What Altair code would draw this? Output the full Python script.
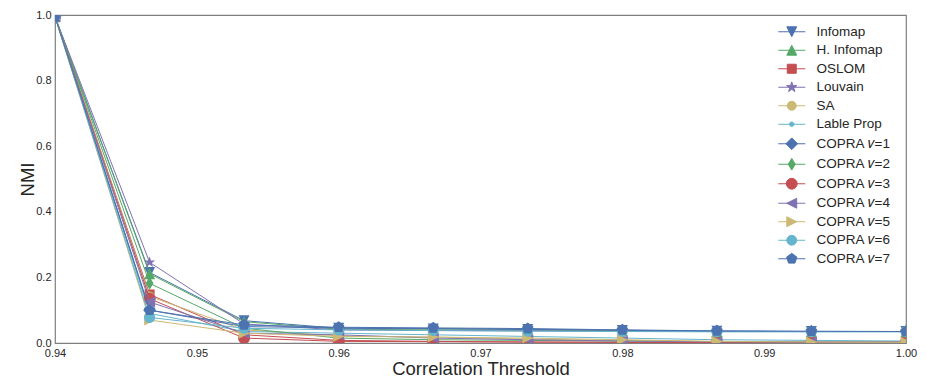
import math
import altair as alt
import pandas as pd

# ---------------- data ----------------
thresholds = [0.94, 0.94667, 0.95333, 0.96, 0.96667, 0.97333, 0.98, 0.98667, 0.99333, 1.0]

series_names = [
    "Infomap", "H. Infomap", "OSLOM", "Louvain", "SA", "Lable Prop",
    "COPRA 𝑣=1", "COPRA 𝑣=2", "COPRA 𝑣=3", "COPRA 𝑣=4",
    "COPRA 𝑣=5", "COPRA 𝑣=6", "COPRA 𝑣=7",
]

infomap    = [0.995, 0.215, 0.068, 0.045, 0.043, 0.041, 0.038, 0.036, 0.035, 0.035]
h_infomap  = [0.995, 0.211, 0.065, 0.042, 0.040, 0.039, 0.037, 0.035, 0.035, 0.035]
oslom      = [0.995, 0.148, 0.025, 0.008, 0.005, 0.003, 0.002, 0.001, 0.001, 0.002]
louvain    = [0.995, 0.246, 0.058, 0.040, 0.038, 0.037, 0.036, 0.035, 0.035, 0.035]
sa         = [0.995, 0.142, 0.040, 0.022, 0.018, 0.012, 0.008, 0.004, 0.002, 0.001]
label_prop = [0.995, 0.090, 0.035, 0.030, 0.025, 0.020, 0.015, 0.010, 0.008, 0.006]
copra1     = [0.995, 0.100, 0.050, 0.046, 0.044, 0.042, 0.039, 0.036, 0.035, 0.035]
copra2     = [0.995, 0.182, 0.045, 0.015, 0.010, 0.008, 0.006, 0.004, 0.003, 0.003]
copra3     = [0.995, 0.135, 0.015, 0.005, 0.004, 0.003, 0.002, 0.002, 0.002, 0.002]
copra4     = [0.995, 0.125, 0.030, 0.025, 0.015, 0.010, 0.006, 0.004, 0.003, 0.003]
copra5     = [0.995, 0.070, 0.030, 0.020, 0.018, 0.015, 0.010, 0.005, 0.003, 0.002]
copra6     = [0.995, 0.078, 0.045, 0.040, 0.038, 0.036, 0.035, 0.034, 0.034, 0.034]
copra7     = [0.995, 0.100, 0.055, 0.048, 0.046, 0.044, 0.040, 0.037, 0.036, 0.035]

all_values = [infomap, h_infomap, oslom, louvain, sa, label_prop,
              copra1, copra2, copra3, copra4, copra5, copra6, copra7]

x_ticks = [0.94, 0.95, 0.96, 0.97, 0.98, 0.99, 1.00]
y_ticks = [0.0, 0.2, 0.4, 0.6, 0.8, 1.0]

# ---------------- styles ----------------
BLUE, GREEN, RED, PURPLE, YELLOW, CYAN = "#4C72B0", "#55A868", "#C44E52", "#8172B2", "#CCB974", "#64B5CD"
colors = [BLUE, GREEN, RED, PURPLE, YELLOW, CYAN, BLUE, GREEN, RED, PURPLE, YELLOW, CYAN, BLUE]


def star_pts():
    pts = []
    for k in range(10):
        ang = math.radians(90 + 36 * k)
        r = 1.0 if k % 2 == 0 else 0.382
        pts.append((r * math.cos(ang), -r * math.sin(ang)))
    return pts


def pent_pts():
    return [(math.cos(math.radians(90 + 72 * k)), -math.sin(math.radians(90 + 72 * k))) for k in range(5)]


shapes = {
    "tri_down": [(-1, -1), (1, -1), (0, 1)],
    "tri_up": [(0, -1), (1, 1), (-1, 1)],
    "square": [(-1, -1), (1, -1), (1, 1), (-1, 1)],
    "star": star_pts(),
    "circle": "circle",
    "diamond": [(0, -1), (1, 0), (0, 1), (-1, 0)],
    "thin_diamond": [(0, -1), (0.6, 0), (0, 1), (-0.6, 0)],
    "tri_left": [(-1, 0), (1, -1), (1, 1)],
    "tri_right": [(1, 0), (-1, -1), (-1, 1)],
    "pentagon": pent_pts(),
}

marker_kind = ["tri_down", "tri_up", "square", "star", "circle", "circle",
               "diamond", "thin_diamond", "circle", "tri_left", "tri_right", "circle", "pentagon"]
marker_diam = [11, 11, 10, 12, 10, 5, 13, 13, 12, 11, 11, 11, 12]


def path_of(kind, f=1.0):
    s = shapes[kind]
    if s == "circle":
        r = f
        return f"M{r:.3f},0A{r:.3f},{r:.3f} 0 1,1 {-r:.3f},0A{r:.3f},{r:.3f} 0 1,1 {r:.3f},0Z"
    return "M" + "L".join(f"{x * f:.3f},{y * f:.3f}" for x, y in s) + "Z"


LEG_D = 12.0
legend_paths = ["M-2.25,0H2.25" + path_of(k, 0.9 * d / LEG_D) for k, d in zip(marker_kind, marker_diam)]

# ---------------- chart ----------------
rows = []
for name, vals in zip(series_names, all_values):
    for t, v in zip(thresholds, vals):
        rows.append({"threshold": t, "nmi": v, "series": name})
df = pd.DataFrame(rows)

FONT = "Liberation Sans"
x_enc = alt.X("threshold:Q",
              scale=alt.Scale(domain=[0.94, 1.0], nice=False, zero=False),
              axis=alt.Axis(values=x_ticks, format=".2f", title="Correlation Threshold",
                            grid=False, ticks=False, domain=False, labelFlush=False,
                            labelPadding=4, titlePadding=1, labelFontSize=11,
                            titleFontSize=18.5, titleFontWeight="normal",
                            labelColor="#262626", titleColor="#262626",
                            labelFont=FONT, titleFont=FONT))
y_enc = alt.Y("nmi:Q",
              scale=alt.Scale(domain=[0, 1], nice=False, zero=True),
              axis=alt.Axis(values=y_ticks, format=".1f", title="NMI",
                            grid=False, ticks=False, domain=False, labelFlush=False,
                            labelPadding=4, titlePadding=-2, labelFontSize=11,
                            titleFontSize=18.5, titleFontWeight="normal",
                            labelColor="#262626", titleColor="#262626",
                            labelFont=FONT, titleFont=FONT))

base = alt.Chart(df)
layers = []
for i, name in enumerate(series_names):
    sub = base.transform_filter(alt.datum.series == name)
    layers.append(sub.mark_line(strokeWidth=1, clip=True, color=colors[i]).encode(x=x_enc, y=y_enc))
    layers.append(sub.mark_point(filled=True, opacity=1, clip=True, color=colors[i],
                                 shape=path_of(marker_kind[i]), size=marker_diam[i] ** 2)
                  .encode(x=x_enc, y=y_enc))

leg = alt.Legend(title=None, orient="none", legendX=730, legendY=10, padding=0,
                 symbolSize=LEG_D ** 2, symbolStrokeWidth=1.0, rowPadding=3.5,
                 labelOffset=18, labelFontSize=13.5, labelFont=FONT, labelColor="#262626",
                 symbolOpacity=1)
legend_layer = base.mark_point(filled=False, opacity=0, clip=True).encode(
    x=x_enc, y=y_enc,
    shape=alt.Shape("series:N", scale=alt.Scale(domain=series_names, range=legend_paths), legend=leg),
    fill=alt.Fill("series:N", scale=alt.Scale(domain=series_names, range=colors), legend=leg),
    stroke=alt.Stroke("series:N", scale=alt.Scale(domain=series_names, range=colors), legend=leg),
)
layers.append(legend_layer)

chart = alt.layer(*layers).properties(
    width=851, height=328,
    autosize=alt.AutoSizeParams(type="none"),
    padding={"left": 55, "top": 15, "right": 21, "bottom": 38},
    background="white",
).configure_view(stroke="#7f7f7f", strokeWidth=1.2)

chart.save("out.html", embed_options={"renderer": "svg", "actions": False})
